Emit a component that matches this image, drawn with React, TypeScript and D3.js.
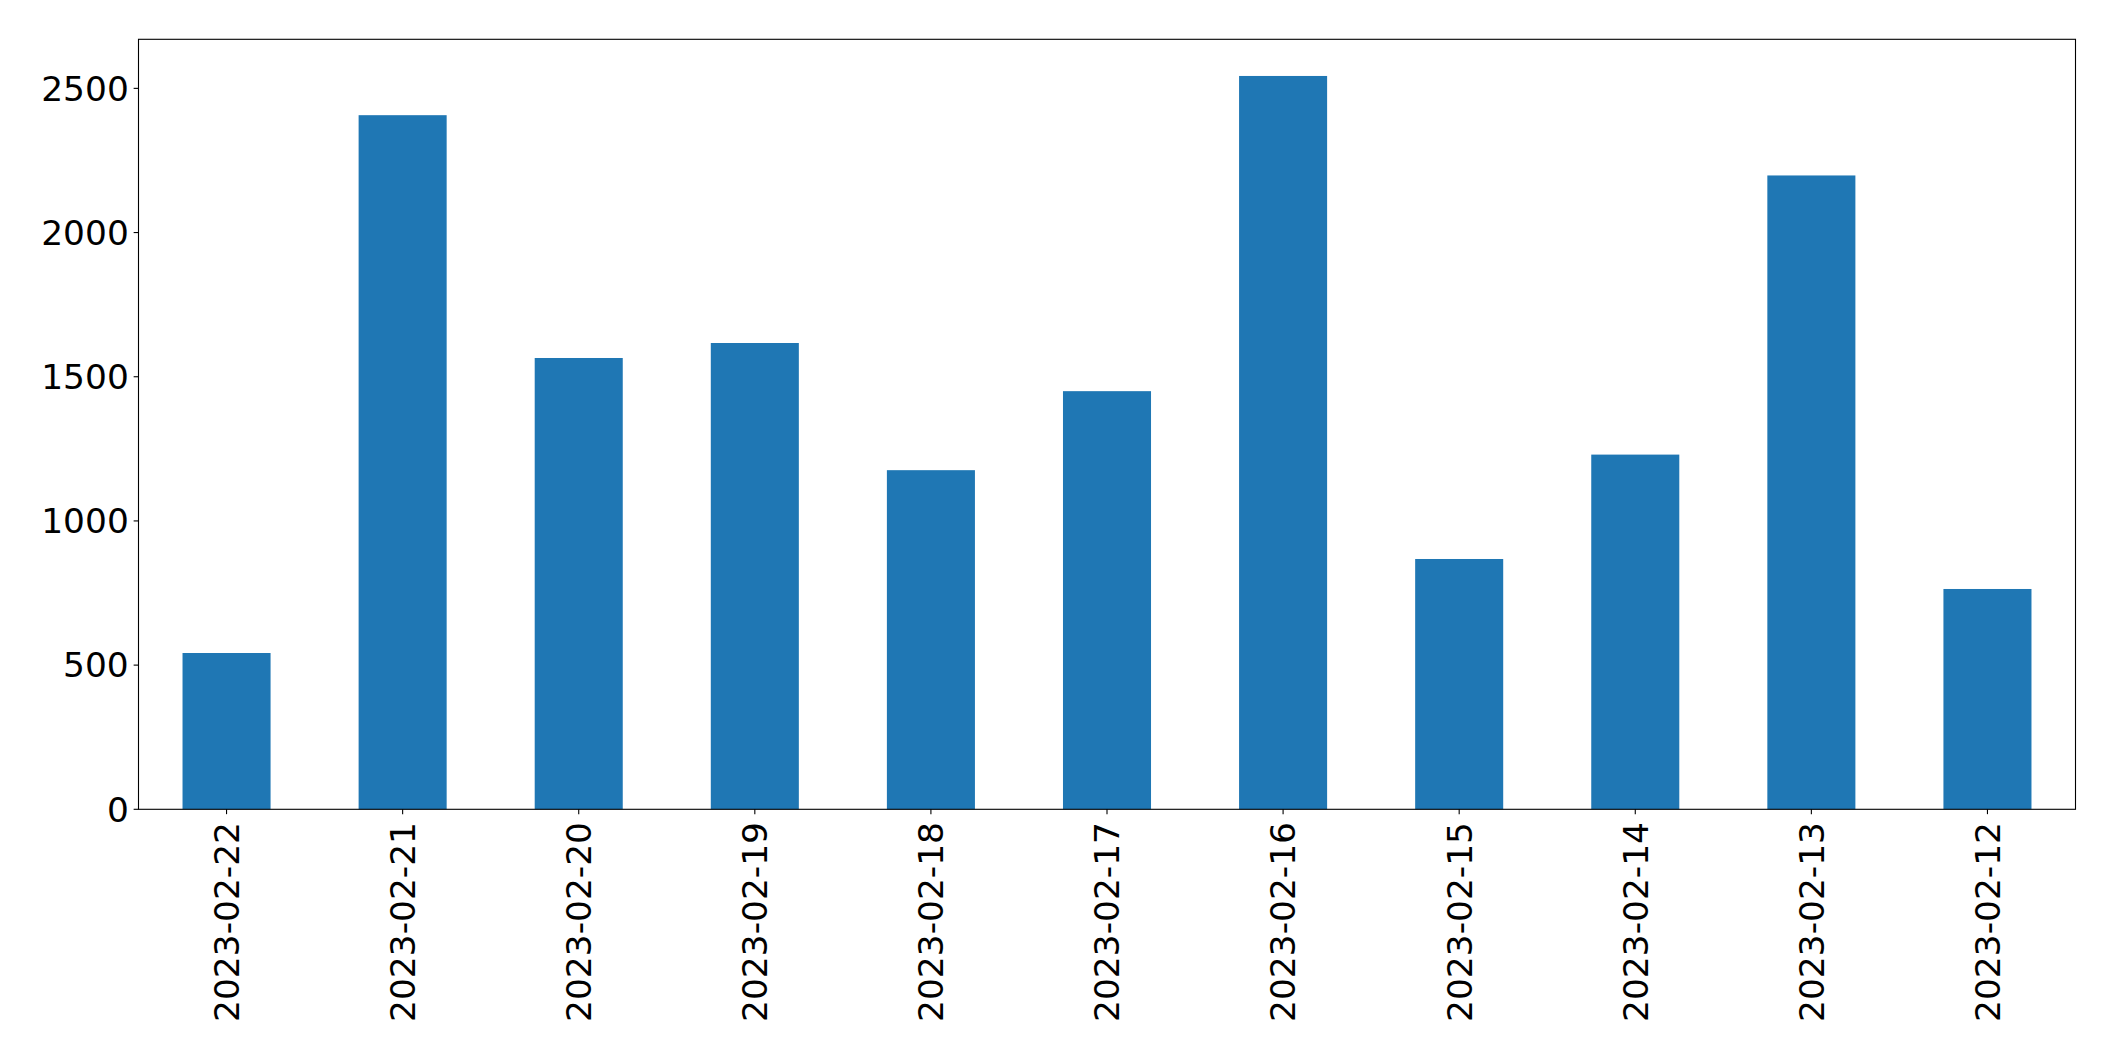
import React from "react";
import * as d3 from "d3";

const categories = [
  "2023-02-22", "2023-02-21", "2023-02-20", "2023-02-19", "2023-02-18", "2023-02-17",
  "2023-02-16", "2023-02-15", "2023-02-14", "2023-02-13", "2023-02-12",
];
const values = [542, 2407, 1565, 1617, 1176, 1450, 2543, 868, 1230, 2198, 764];
const yTicks = [0, 500, 1000, 1500, 2000, 2500];

const W = 2115;
const H = 1061;
const M = { left: 138.5, right: 2075.5, top: 39.3, bottom: 809.3 };
const FONT = "'DejaVu Sans', sans-serif";
const FS = 34.4;
const TICK = 4.86;
const PAD = 4.86;

export default function App() {
  const n = categories.length;
  const x = d3.scaleLinear().domain([-0.5, n - 0.5]).range([M.left, M.right]);
  const yMax = d3.max(values)! * 1.05;
  const y = d3.scaleLinear().domain([0, yMax]).range([M.bottom, M.top]);
  const bw = x(0.25) - x(-0.25);

  return (
    <div style={{ position: "absolute", left: 0, top: 0 }}>
      <svg width={W} height={H} style={{ display: "block", background: "#fff" }}>
        <rect x={0} y={0} width={W} height={H} fill="#fff" />
        {values.map((v, i) => (
          <rect
            key={i}
            x={x(i) - bw / 2}
            y={y(v)}
            width={bw}
            height={y(0) - y(v)}
            fill="#1f77b4"
          />
        ))}
        <rect
          x={M.left}
          y={M.top}
          width={M.right - M.left}
          height={M.bottom - M.top}
          fill="none"
          stroke="#000"
          strokeWidth={1.1}
        />
        {yTicks.map((t) => (
          <g key={t}>
            <line x1={M.left - TICK} x2={M.left} y1={y(t)} y2={y(t)} stroke="#000" strokeWidth={1.1} />
            <text
              x={M.left - TICK - PAD}
              y={y(t)}
              dy="0.36em"
              textAnchor="end"
              fontFamily={FONT}
              fontSize={FS}
              fill="#000"
            >
              {t}
            </text>
          </g>
        ))}
        {categories.map((c, i) => (
          <g key={c}>
            <line x1={x(i)} x2={x(i)} y1={M.bottom} y2={M.bottom + TICK} stroke="#000" strokeWidth={1.1} />
            <text
              transform={`translate(${x(i)},${M.bottom + TICK + PAD + 3}) rotate(-90)`}
              dy="0.36em"
              textAnchor="end"
              fontFamily={FONT}
              fontSize={FS}
              fill="#000"
            >
              {c}
            </text>
          </g>
        ))}
      </svg>
    </div>
  );
}
